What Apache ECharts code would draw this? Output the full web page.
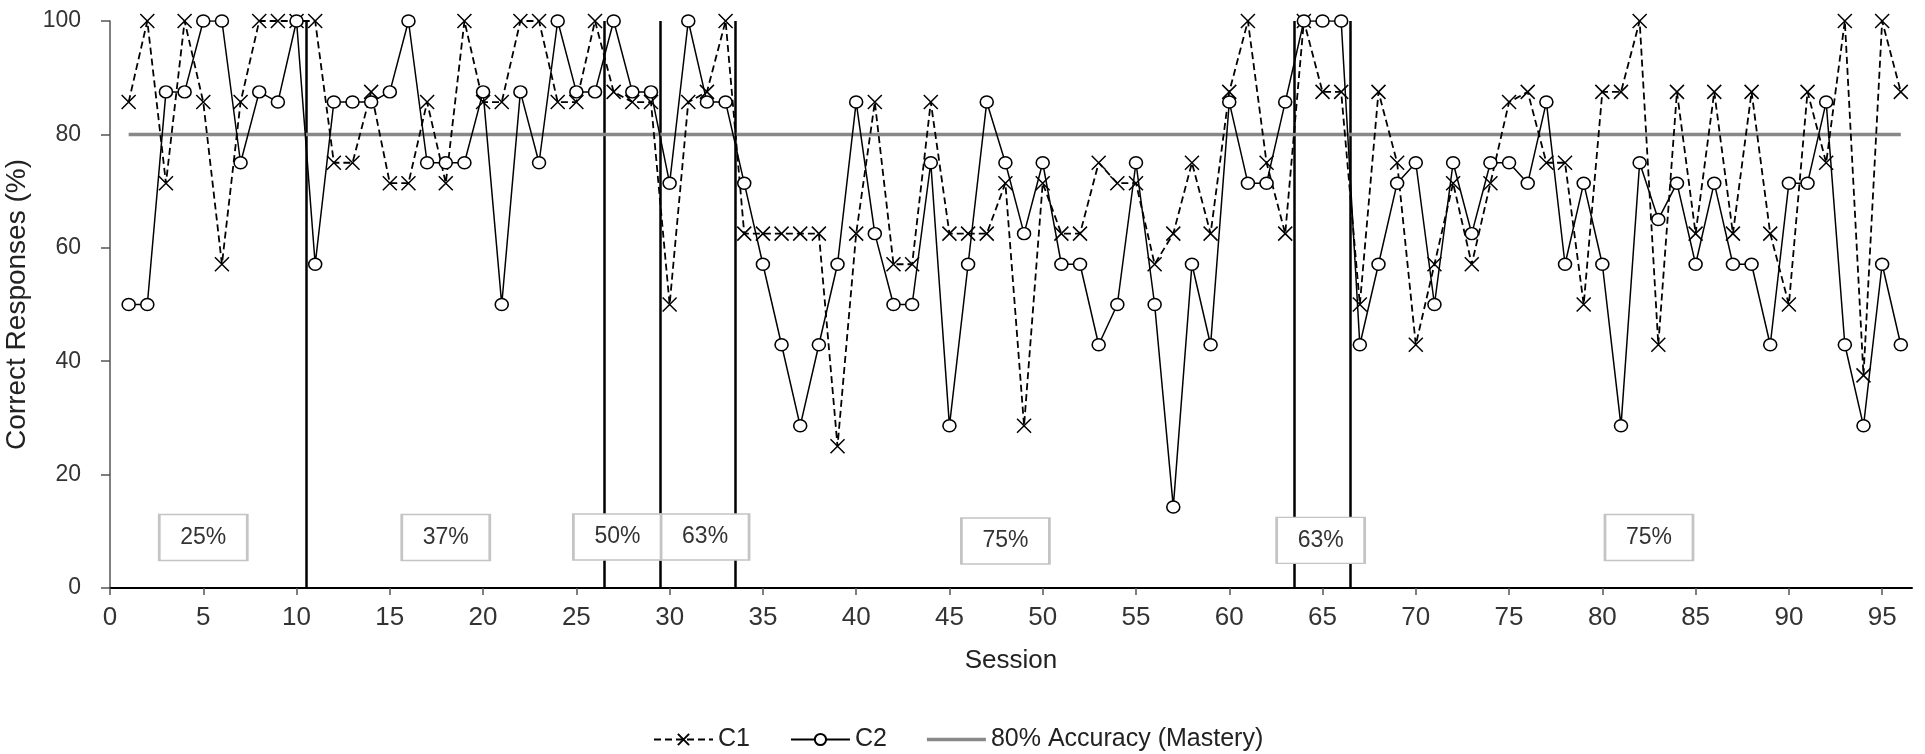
<!DOCTYPE html>
<html>
<head>
<meta charset="utf-8">
<script src="https://cdn.jsdelivr.net/npm/echarts@6/dist/echarts.min.js"></script>
<style>
html,body{margin:0;padding:0;background:#fff;}
#chart{width:1925px;height:754px;}
</style>
</head>
<body>
<div id="chart"></div>
<script>
const sessions = [1,2,3,4,5,6,7,8,9,10,11,12,13,14,15,16,17,18,19,20,21,22,23,24,25,26,27,28,29,30,31,32,33,34,35,36,37,38,39,40,41,42,43,44,45,46,47,48,49,50,51,52,53,54,55,56,57,58,59,60,61,62,63,64,65,66,67,68,69,70,71,72,73,74,75,76,77,78,79,80,81,82,83,84,85,86,87,88,89,90,91,92,93,94,95,96];

const c1Values = [85.7,100,71.4,100,85.7,57.1,85.7,100,100,100,
  100,75,75,87.5,71.4,71.4,85.7,71.4,100,85.7,
  85.7,100,100,85.7,85.7,100,87.5,85.7,85.7,50,
  85.7,87.5,100,62.5,62.5,62.5,62.5,62.5,25,62.5,
  85.7,57.1,57.1,85.7,62.5,62.5,62.5,71.4,28.6,71.4,
  62.5,62.5,75,71.4,71.4,57.1,62.5,75,62.5,87.5,
  100,75,62.5,100,87.5,87.5,50,87.5,75,42.9,
  57.1,71.4,57.1,71.4,85.7,87.5,75,75,50,87.5,
  87.5,100,42.9,87.5,62.5,87.5,62.5,87.5,62.5,50,
  87.5,75,100,37.5,100,87.5];

const c2Values = [50,50,87.5,87.5,100,100,75,87.5,85.7,100,
  57.1,85.7,85.7,85.7,87.5,100,75,75,75,87.5,
  50,87.5,75,100,87.5,87.5,100,87.5,87.5,71.4,
  100,85.7,85.7,71.4,57.1,42.9,28.6,42.9,57.1,85.7,
  62.5,50,50,75,28.6,57.1,85.7,75,62.5,75,
  57.1,57.1,42.9,50,75,50,14.3,57.1,42.9,85.7,
  71.4,71.4,85.7,100,100,100,42.9,57.1,71.4,75,
  50,75,62.5,75,75,71.4,85.7,57.1,71.4,57.1,
  28.6,75,65,71.4,57.1,71.4,57.1,57.1,42.9,71.4,
  71.4,85.7,42.9,28.6,57.1,42.9];

const masteryLevel = 80;
const masteryStart = 1;
const masteryEnd = 96;

const phaseChanges = [10.5, 26.5, 29.5, 33.5, 63.5, 66.5];

const phaseLabels = ['25%','37%','50%','63%','75%','63%','75%'];
const phaseLabelX = [5.0, 18.0, 27.2, 31.9, 48.0, 64.9, 82.5];
const phaseLabelY = [8.9, 8.9, 9.0, 9.0, 8.3, 8.4, 8.9];

const xTicks = [0,5,10,15,20,25,30,35,40,45,50,55,60,65,70,75,80,85,90,95];

const FONT = 'Liberation Sans';
const chart = echarts.init(document.getElementById('chart'), null, {renderer:'canvas'});

const xMark = 'path://M0,0L10,10M0,10L10,0';

const option = {
  animation: false,
  backgroundColor: '#fff',
  textStyle: {fontFamily: FONT},
  grid: {left: 110, right: 13, top: 21, bottom: 166, containLabel: false, outerBoundsMode: 'none'},
  legend: {
    data: [
      {name: 'C1'},
      {name: 'C2'},
      {name: '80% Accuracy (Mastery)', icon: 'path://M0,0L59,0L59,3.5L0,3.5Z'}
    ],
    left: 648, top: 722,
    itemWidth: 59, itemHeight: 14, itemGap: 40,
    textStyle: {fontFamily: FONT, fontSize: 25, color: '#222'}
  },
  xAxis: {
    type: 'value', min: 0, max: 96.6,
    name: 'Session', nameLocation: 'middle', nameGap: 60,
    nameTextStyle: {fontFamily: FONT, fontSize: 26, color: '#222'},
    axisLine: {show: true, onZero: false, lineStyle: {color: '#000', width: 2}},
    axisTick: {show: true, inside: false, length: 7, customValues: xTicks, lineStyle: {color: '#555', width: 1.5}},
    axisLabel: {show: true, margin: 17, customValues: xTicks, fontFamily: FONT, fontSize: 26, color: '#333'},
    splitLine: {show: false}
  },
  yAxis: {
    type: 'value', min: 0, max: 100, interval: 20,
    name: 'Correct Responses (%)', nameLocation: 'middle', nameGap: 66,
    nameTextStyle: {fontFamily: FONT, fontSize: 28, color: '#222'},
    axisLine: {show: true, onZero: false, lineStyle: {color: '#555', width: 1.5}},
    axisTick: {show: true, inside: false, length: 9, lineStyle: {color: '#555', width: 1.5}},
    axisLabel: {show: true, margin: 29, fontFamily: FONT, fontSize: 23, color: '#333'},
    splitLine: {show: false}
  },
  series: [
    {
      name: 'phases', type: 'line', data: [], z: 1, silent: true,
      markLine: {
        silent: true, symbol: 'none', label: {show: false}, z: 1,
        lineStyle: {color: '#000', width: 2.5, type: 'solid'},
        emphasis: {disabled: true},
        data: phaseChanges.map(v => ({xAxis: v}))
      }
    },
    {
      name: '80% Accuracy (Mastery)', type: 'line', z: 2,
      data: [[masteryStart, masteryLevel], [masteryEnd, masteryLevel]],
      symbol: 'none',
      lineStyle: {color: '#888', width: 3.5},
      itemStyle: {color: '#888'}
    },
    {
      name: 'phaseLabels', type: 'scatter', z: 10, silent: true,
      data: phaseLabels.map((t, i) => ({name: t, value: [phaseLabelX[i], phaseLabelY[i]]})),
      symbol: 'rect', symbolSize: [88, 46],
      itemStyle: {color: '#fff', borderColor: '#c4c4c4', borderWidth: 2, opacity: 1},
      label: {show: true, position: 'inside', formatter: p => p.name, fontFamily: FONT, fontSize: 23, color: '#333'}
    },
    {
      name: 'C1', type: 'line', z: 4,
      data: sessions.map((s, i) => [s, c1Values[i]]),
      symbol: xMark, symbolSize: 14,
      lineStyle: {color: '#000', width: 1.8, type: [7, 4]},
      itemStyle: {color: '#000', borderColor: '#000', borderWidth: 1.5}
    },
    {
      name: 'C2', type: 'line', z: 5,
      data: sessions.map((s, i) => [s, c2Values[i]]),
      symbol: 'circle', symbolSize: [13, 12],
      lineStyle: {color: '#000', width: 1.5, type: 'solid'},
      itemStyle: {color: '#fff', borderColor: '#000', borderWidth: 1.5}
    }
  ]
};
chart.setOption(option);
</script>
</body>
</html>
